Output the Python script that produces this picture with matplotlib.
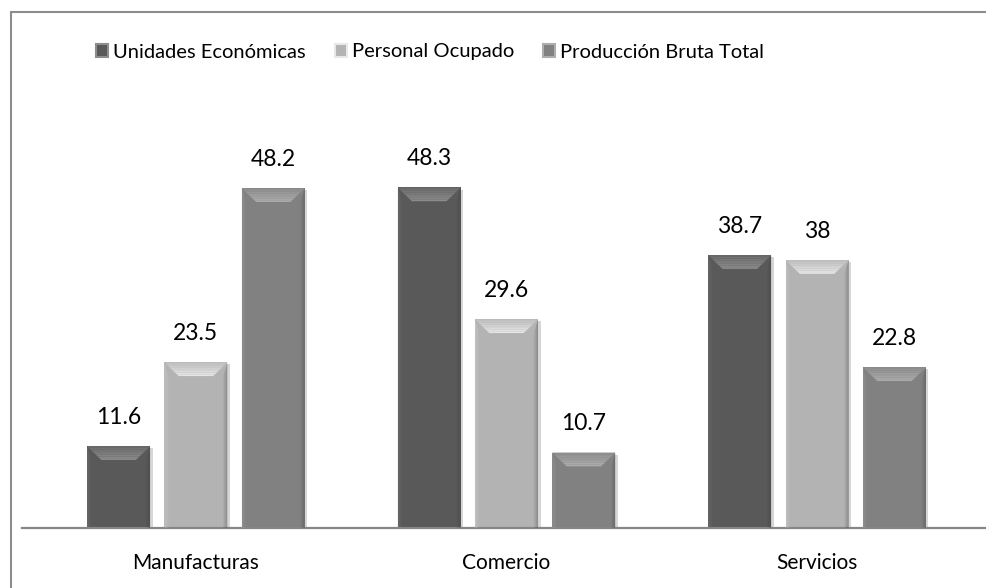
import numpy as np
import matplotlib as mpl

mpl.use('Agg')

import matplotlib.pyplot as plt
from matplotlib.patches import Polygon, Rectangle
from matplotlib.colors import to_rgb

plt.rcParams['font.family'] = ['Lato', 'DejaVu Sans']

# datos
categorias = ['Manufacturas', 'Comercio', 'Servicios']
series = ['Unidades Económicas', 'Personal Ocupado', 'Producción Bruta Total']
unidades = [11.6, 48.3, 38.7]
personal = [23.5, 29.6, 38]
produccion = [48.2, 10.7, 22.8]

colores = ['#595959', '#b3b3b3', '#818181']
claros = ['#8e8e8e', '#e8e8e8', '#aeaeae']
oscuros = ['#6a6a6a', '#bdbdbd', '#8c8c8c']

W, H = 987, 588
fig = plt.figure(figsize=(W / 100, H / 100), dpi=100)
ax = fig.add_axes([22 / W, 1 - 528 / H, (W - 22) / W, (528 - 105) / H])

# borde exterior del grafico
fig.add_artist(Rectangle((11 / W, -0.1), 1.2, 1 - 12 / H + 0.1,
                         transform=fig.transFigure, fill=False,
                         ec='#8c8c8c', lw=1.5))

x = np.arange(len(categorias))
ancho = 0.203
paso = 0.249
dx = 0.046
dy = 1.95


def mezcla(c1, c2, t):
    a, b = np.array(to_rgb(c1)), np.array(to_rgb(c2))
    return tuple(a + (b - a) * t)


def barra_bisel(ax, xc, h, color, claro, oscuro):
    x0, x1 = xc - ancho / 2, xc + ancho / 2
    # sombra
    ax.add_patch(Rectangle((x0 + 0.008, 0), ancho, h - 0.3, color='#d6d6d6',
                           zorder=1, lw=0))
    ax.bar(xc, h, ancho, color=color, zorder=2, lw=0)
    d = min(dy, h / 2)
    # lados
    n = 4
    for k in range(n):
        t0, t1 = k / n, (k + 1) / n
        a = 0.5 * (1 - k / n)
        ax.add_patch(Polygon([(x0 + dx * 0.3 * t0, 0), (x0 + dx * 0.3 * t0, h - d * t0),
                              (x0 + dx * 0.3 * t1, h - d * t1), (x0 + dx * 0.3 * t1, 0)],
                             closed=True, color=claro, lw=0, zorder=3, alpha=a * 0.5))
        ax.add_patch(Polygon([(x1 - dx * 0.3 * t0, 0), (x1 - dx * 0.3 * t0, h - d * t0),
                              (x1 - dx * 0.3 * t1, h - d * t1), (x1 - dx * 0.3 * t1, 0)],
                             closed=True, color='#3a3a3a', lw=0, zorder=3, alpha=a * 0.6))
    # bisel superior con degradado
    n = 8
    for k in range(n):
        t0, t1 = k / n, (k + 1) / n
        c = mezcla(oscuro, claro, (k + 0.5) / n)
        ax.add_patch(Polygon([(x0 + dx * t0, h - d * t0), (x1 - dx * t0, h - d * t0),
                              (x1 - dx * t1, h - d * t1), (x0 + dx * t1, h - d * t1)],
                             closed=True, color=c, lw=0, zorder=4))


for i, valores in enumerate([unidades, personal, produccion]):
    pos = x + (i - 1) * paso
    for xc, v in zip(pos, valores):
        barra_bisel(ax, xc, v, colores[i], claros[i], oscuros[i])
        ax.text(xc, v + 2.6, f'{v:g}', ha='center', va='bottom', fontsize=16.5,
                color='black')

ax.set_xlim(-0.56, 2.547)
ax.set_ylim(0, 60)
for s in ['top', 'right', 'left']:
    ax.spines[s].set_visible(False)
ax.spines['bottom'].set_color('#868686')
ax.spines['bottom'].set_linewidth(1.6)
ax.set_yticks([])
ax.set_xticks(x)
ax.set_xticklabels(categorias, fontsize=15)
ax.tick_params(axis='x', length=0, pad=18)

# leyenda
handles = [Rectangle((0, 0), 1, 1, fc=colores[i], ec=claros[i], lw=1.5) for i in range(3)]
fig.legend(handles, series, loc='center', bbox_to_anchor=(430 / W, 1 - 52 / H),
           ncol=3, frameon=False, fontsize=14.5, handlelength=0.6, handleheight=0.6,
           handletextpad=0.25, columnspacing=1.45)

fig.savefig('out.png', dpi=100)
